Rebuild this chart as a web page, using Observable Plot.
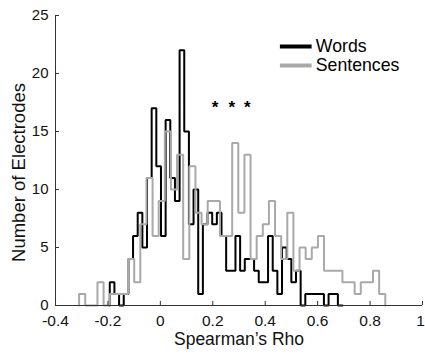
<!DOCTYPE html>
<html>
<head>
<meta charset="utf-8">
<script src="https://cdn.jsdelivr.net/npm/d3@7"></script>
<script src="https://cdn.jsdelivr.net/npm/@observablehq/plot@0.6"></script>
<style>
  html, body { margin: 0; padding: 0; background: #fff; }
  #chart svg { display: block; }
</style>
</head>
<body>
<div id="chart"></div>
<script>
// Distribution of per-electrode Spearman correlations for the two conditions,
// drawn as outlined (stairs) histograms.

// Words: 50 equal bins starting at wordsStart
const wordsStart = -0.193;
const wordsBinWidth = 0.01776;
const wordsCounts = [
  2, 1, 0, 1, 4, 6, 8, 5, 11, 17,
  12, 6, 16, 11, 9, 22, 15, 7, 10, 1,
  7, 8, 7, 8, 6, 3, 3, 6, 3, 4,
  4, 3, 2, 2, 6, 3, 1, 5, 4, 2,
  3, 0, 1, 1, 1, 1, 0, 1, 1, 0
];

// Sentences: 50 equal bins starting at sentencesStart
const sentencesStart = -0.31;
const sentencesBinWidth = 0.02336;
const sentencesCounts = [
  1, 0, 0, 2, 0, 1, 1, 1, 4, 2,
  7, 11, 6, 9, 15, 10, 13, 4, 12, 8,
  7, 9, 9, 6, 6, 14, 8, 13, 4, 6,
  7, 9, 6, 4, 8, 3, 5, 4, 5, 6,
  3, 3, 3, 2, 2, 1, 2, 2, 3, 1
];

const seriesNames = ["Words", "Sentences"];
const seriesColors = ["#000000", "#a9a9a9"];

const xTicks = [-0.4, -0.2, 0, 0.2, 0.4, 0.6, 0.8, 1];
const yTicks = [0, 5, 10, 15, 20, 25];

// significance marker above the sentence bump
const starX = [0.209, 0.273, 0.332];
const starY = 17.1;

// legend placement (data units)
const legendLineX = [0.456, 0.577];
const legendTextX = 0.593;
const legendRowY = [22.33, 20.69];

// Turn bin counts into the vertices of a stairs outline closed to zero
function outline(start, width, counts) {
  const pts = [{x: start, y: 0}];
  counts.forEach((c, i) => pts.push({x: start + i * width, y: c}));
  const end = start + counts.length * width;
  pts.push({x: end, y: counts[counts.length - 1]});
  pts.push({x: end, y: 0});
  return pts;
}

const wordsOutline = outline(wordsStart, wordsBinWidth, wordsCounts);
const sentencesOutline = outline(sentencesStart, sentencesBinWidth, sentencesCounts);

const legendRows = seriesNames.map((name, i) => ({
  name, color: seriesColors[i], y: legendRowY[i]
}));

const font = "'Liberation Sans', Arial, Helvetica, sans-serif";
const axisColor = "#333";
const xTickStyle = {tickSize: 0, tickPadding: 9, fontSize: 15.5, tickFormat: d => String(d), label: null};

const chart = Plot.plot({
  width: 425,
  height: 356,
  marginLeft: 55,
  marginRight: 3,
  marginTop: 15,
  marginBottom: 51,
  style: {fontFamily: font, background: "#fff", color: "#111"},
  x: {domain: [-0.4, 1]},
  y: {domain: [0, 25]},
  marks: [
    // the last label sits against the right edge, so it is nudged inward a little
    Plot.axisX(xTicks.slice(0, -1), xTickStyle),
    Plot.axisX(xTicks.slice(-1), {...xTickStyle, dx: -2}),
    Plot.axisY(yTicks, {tickSize: 0, tickPadding: 7, fontSize: 15, tickFormat: d => String(d), label: null}),

    // histogram outlines
    Plot.line(wordsOutline, {x: "x", y: "y", curve: "step-after", stroke: seriesColors[0], strokeWidth: 2, strokeLinejoin: "miter"}),
    Plot.line(sentencesOutline, {x: "x", y: "y", curve: "step-after", stroke: seriesColors[1], strokeWidth: 2, strokeLinejoin: "miter"}),

    // axis lines with inward ticks
    Plot.ruleY([0], {stroke: axisColor, strokeWidth: 1}),
    Plot.ruleX([-0.4], {stroke: axisColor, strokeWidth: 1}),
    Plot.ruleX(xTicks, {y1: 0, y2: 0.35, stroke: axisColor}),
    Plot.ruleY(yTicks, {x1: -0.4, x2: -0.385, stroke: axisColor}),

    // axis titles
    Plot.text(["Spearman’s Rho"], {text: d => d, frameAnchor: "bottom", textAnchor: "middle", dy: 39, fontSize: 17.5, fill: "#111"}),
    Plot.text(["Number of Electrodes"], {text: d => d, frameAnchor: "left", textAnchor: "middle", rotate: -90, dx: -36, dy: 12, fontSize: 18.5, fill: "#111"}),

    // significance stars
    Plot.text(starX, {x: d => d, y: starY, text: () => "*", fontSize: 17, fontWeight: "bold", fill: "#000"}),

    // legend
    Plot.link(legendRows, {x1: legendLineX[0], x2: legendLineX[1], y1: "y", y2: "y", stroke: "color", strokeWidth: 4}),
    Plot.text(legendRows, {x: legendTextX, y: "y", text: "name", textAnchor: "start", fontSize: 17.7, fill: "#000"})
  ]
});

document.getElementById("chart").appendChild(chart);
</script>
</body>
</html>
